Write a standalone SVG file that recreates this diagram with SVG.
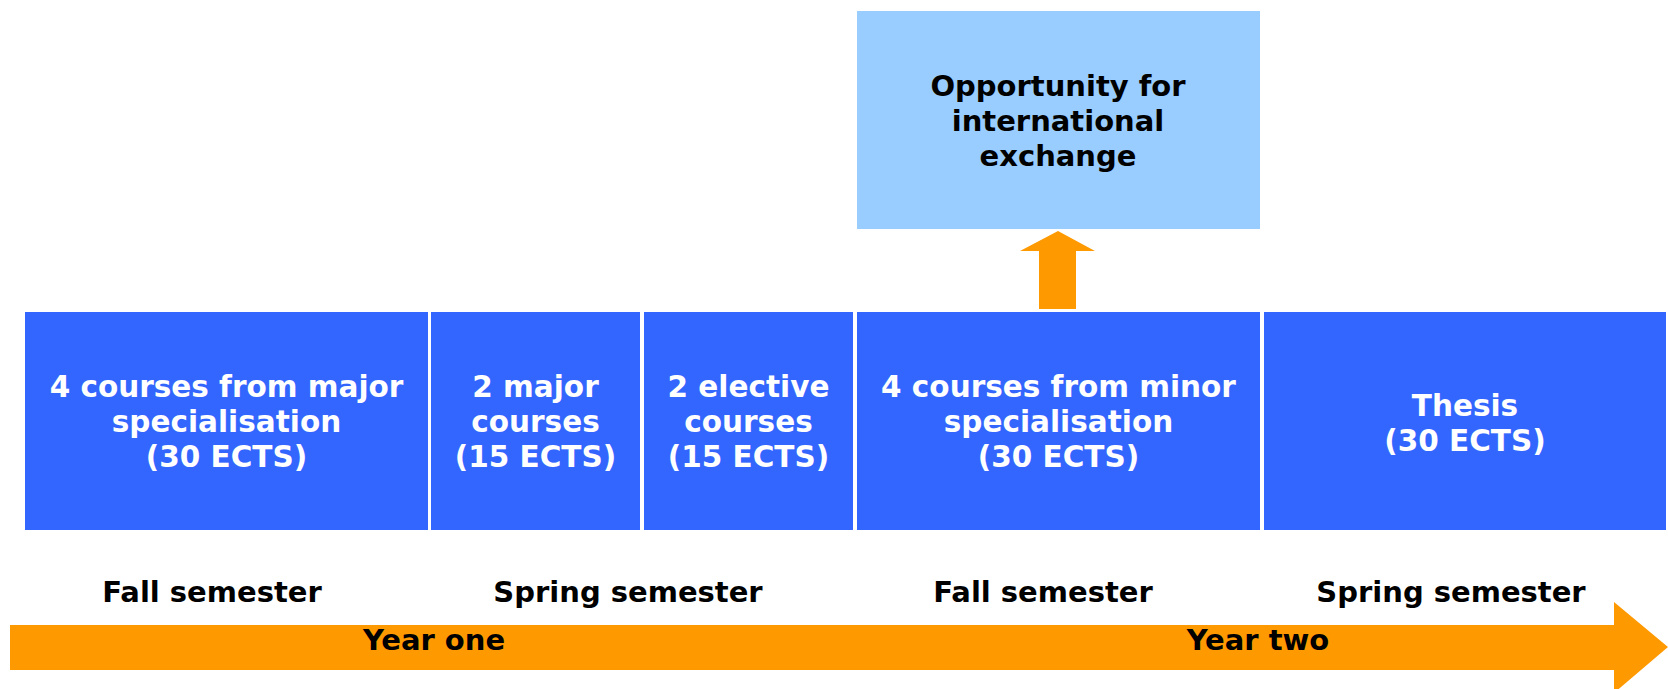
<svg xmlns="http://www.w3.org/2000/svg" width="1668" height="689" viewBox="0 0 1668 689">
<style>
text{font-family:"DejaVu Sans","Verdana",sans-serif;font-weight:bold;font-size:29px;text-anchor:middle}
.w{fill:#FFFFFF;font-size:29.5px}
.k{fill:#000000}
.blue{fill:#3366FF}
.lb{fill:#99CCFF}
.or{fill:#FF9900}
</style>
<rect width="1668" height="689" fill="#FFFFFF"/>
<g id="connectors">
<polygon class="or" points="1039,309 1076,309 1076,251 1095,251 1058,231 1020,251 1039,251"/>
<polygon class="or" points="10,625 1614,625 1614,602 1668,647 1614,693 1614,670 10,670"/>
</g>
<g id="exchange">
<rect class="lb" x="857" y="11" width="403" height="218"/>
<text class="k" x="1058" y="96">Opportunity for</text>
<text class="k" x="1058" y="131">international</text>
<text class="k" x="1058" y="166">exchange</text>
</g>
<g id="major">
<rect class="blue" x="25" y="312" width="403" height="218"/>
<text class="w" x="226.5" y="397">4 courses from major</text>
<text class="w" x="226.5" y="432">specialisation</text>
<text class="w" x="226.5" y="467">(30 ECTS)</text>
</g>
<g id="majorcourses">
<rect class="blue" x="431" y="312" width="209" height="218"/>
<text class="w" x="535.5" y="397">2 major</text>
<text class="w" x="535.5" y="432">courses</text>
<text class="w" x="535.5" y="467">(15 ECTS)</text>
</g>
<g id="elective">
<rect class="blue" x="644" y="312" width="209" height="218"/>
<text class="w" x="748.5" y="397">2 elective</text>
<text class="w" x="748.5" y="432">courses</text>
<text class="w" x="748.5" y="467">(15 ECTS)</text>
</g>
<g id="minor">
<rect class="blue" x="857" y="312" width="403" height="218"/>
<text class="w" x="1058.5" y="397">4 courses from minor</text>
<text class="w" x="1058.5" y="432">specialisation</text>
<text class="w" x="1058.5" y="467">(30 ECTS)</text>
</g>
<g id="thesis">
<rect class="blue" x="1264" y="312" width="402" height="218"/>
<text class="w" x="1465" y="416">Thesis</text>
<text class="w" x="1465" y="451">(30 ECTS)</text>
</g>
<g id="labels">
<text class="k" x="212" y="602">Fall semester</text>
<text class="k" x="628" y="602">Spring semester</text>
<text class="k" x="1043" y="602">Fall semester</text>
<text class="k" x="1451" y="602">Spring semester</text>
<text class="k" x="434" y="650">Year one</text>
<text class="k" x="1258" y="650">Year two</text>
</g>
</svg>
